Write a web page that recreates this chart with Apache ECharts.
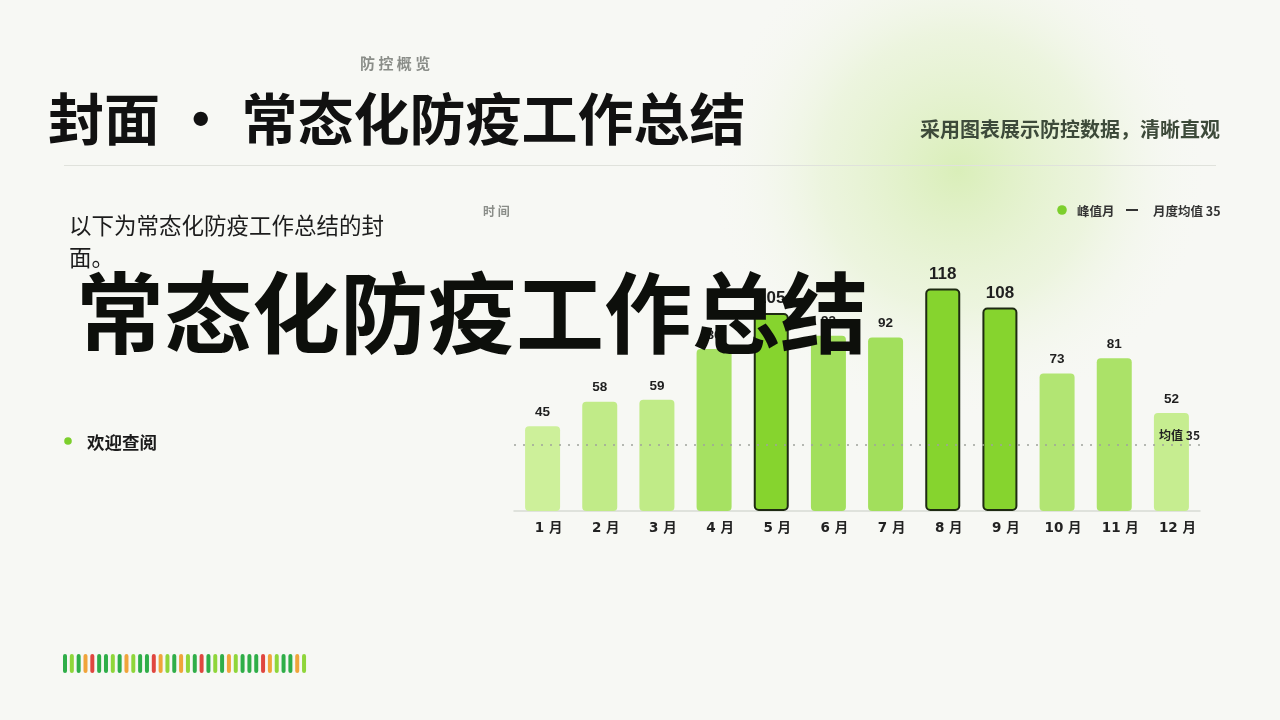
<!DOCTYPE html>
<html>
<head>
<meta charset="utf-8">
<script src="https://cdn.jsdelivr.net/npm/echarts@6/dist/echarts.min.js"></script>
<style>
html,body{margin:0;padding:0;background:#f7f8f4;}
#c{width:1280px;height:720px;}
</style>
</head>
<body>
<div id="c"></div>
<script>
const months = ['1月','2月','3月','4月','5月','6月','7月','8月','9月','10月','11月','12月'];
const cases = [45, 58, 59, 86, 105, 93, 92, 118, 108, 73, 81, 52];
const peakMonths = ['5月','8月','9月'];
const avgValue = 35;
const stripeKeys = ['G','L','G','O','R','G','G','L','G','O','L','G','G','R','O','L','G','O',
                    'L','G','R','G','L','G','O','L','G','G','G','R','O','L','G','G','O','L'];
const stripePalette = {G:'#2fae48', L:'#8fd63a', O:'#f0a43a', R:'#e0463f'};

const CJK = '"Noto Sans CJK SC","Noto Sans",sans-serif';

function mix(a, b, t){
  const pa = [1,3,5].map(i=>parseInt(a.substr(i,2),16));
  const pb = [1,3,5].map(i=>parseInt(b.substr(i,2),16));
  return 'rgb(' + pa.map((v,i)=>Math.round(v+(pb[i]-v)*t)).join(',') + ')';
}
function barColor(v){
  const t = Math.max(0, Math.min(1, (v-45)/(90-45)));
  return mix('#cdf09a', '#a2df5c', t);
}

const barData = cases.map((v,i)=>{
  const peak = peakMonths.indexOf(months[i]) >= 0;
  return {
    value: v,
    itemStyle: peak ? {color:'#86d42e', borderColor:'#1e2a12', borderWidth:2, borderRadius:4}
                    : {color: barColor(v), borderRadius:4},
    label: peak ? {fontSize:17, distance:6} : {fontSize:13.5, distance:7}
  };
});

const graphics = [
  {type:'circle', shape:{cx:958, cy:170, r:250}, z:-10, silent:true,
   style:{fill:{type:'radial', x:0.5, y:0.5, r:0.5,
     colorStops:[{offset:0,color:'rgba(205,234,160,0.7)'},{offset:0.55,color:'rgba(220,239,190,0.4)'},{offset:1,color:'rgba(247,248,244,0)'}]}}},
  {type:'text', left:360, top:56, style:{text:'防 控 概 览', font:'bold 15px '+CJK, fill:'#8a8d88'}},
  {type:'text', x:48, y:119, style:{text:'封面 · 常态化防疫工作总结', font:'bold 56px '+CJK, fill:'#111', textVerticalAlign:'middle'}},
  {type:'text', x:1220, y:129, style:{text:'采用图表展示防控数据，清晰直观', font:'bold 20px '+CJK, fill:'#3d4a3a', textAlign:'right', textVerticalAlign:'middle'}},
  {type:'line', shape:{x1:64, y1:165.5, x2:1216, y2:165.5}, style:{stroke:'#e0e2dc', lineWidth:1}},
  {type:'text', x:483, y:211, style:{text:'时 间', font:'bold 12px '+CJK, fill:'#8a8d88', textVerticalAlign:'middle'}},
  {type:'text', x:69, y:209, style:{text:'以下为常态化防疫工作总结的封面。', font:'22.5px '+CJK, fill:'#1c1c1c', width:326, overflow:'break', lineHeight:32}},
  {type:'circle', shape:{cx:68, cy:441, r:3.8}, style:{fill:'#7ccf2c'}},
  {type:'text', x:87, y:442, style:{text:'欢迎查阅', font:'bold 17.5px '+CJK, fill:'#1a1a1a', textVerticalAlign:'middle'}},
  {type:'circle', shape:{cx:1062, cy:210, r:4.8}, style:{fill:'#7ccf2c'}},
  {type:'text', x:1077, y:211, style:{text:'峰值月', font:'bold 12.5px '+CJK, fill:'#333', textVerticalAlign:'middle'}},
  {type:'line', shape:{x1:1126, y1:210, x2:1138, y2:210}, style:{stroke:'#333', lineWidth:2}},
  {type:'text', x:1153, y:211, style:{text:'月度均值 35', font:'bold 12.5px '+CJK, fill:'#333', textVerticalAlign:'middle'}},
  {type:'text', x:76, y:313, z:100, style:{text:'常态化防疫工作总结', font:'bold 88px '+CJK, fill:'#0d0f0b', textVerticalAlign:'middle'}}
];
stripeKeys.forEach((k,i)=>{
  graphics.push({type:'rect', shape:{x:63 + i*6.83, y:654, width:4, height:19, r:2}, style:{fill:stripePalette[k]}});
});

const chart = echarts.init(document.getElementById('c'));
chart.setOption({
  backgroundColor:'#f7f8f4',
  animation:false,
  grid:{left:514, right:80, top:266, bottom:209},
  xAxis:{type:'category', data:months,
    axisLine:{lineStyle:{color:'#d8dad4', width:1.5}},
    axisTick:{show:false},
    axisLabel:{margin:11, fontSize:13.5, fontWeight:'bold', color:'#222', fontFamily:'"DejaVu Sans","Noto Sans CJK SC",sans-serif',
      padding:[0,0,0,12],
      formatter: v => v.replace('月',' 月')}},
  yAxis:{type:'value', min:0, max:130, show:false, splitLine:{show:false}},
  series:[{
    type:'bar', data:barData, barWidth:35,
    label:{show:true, position:'top', fontWeight:'bold', color:'#1f1f1f', fontFamily:'"Liberation Sans",Arial,sans-serif'},
    markLine:{symbol:'none', silent:true,
      lineStyle:{type:[2,7], color:'#a0a39c', width:1.5},
      label:{position:'insideEndTop', formatter:'均值 ' + avgValue, fontSize:12, fontWeight:'bold', color:'#222', fontFamily:CJK, distance:[0,4]},
      data:[{yAxis:avgValue}]}
  }],
  graphic: graphics
});
</script>
</body>
</html>
